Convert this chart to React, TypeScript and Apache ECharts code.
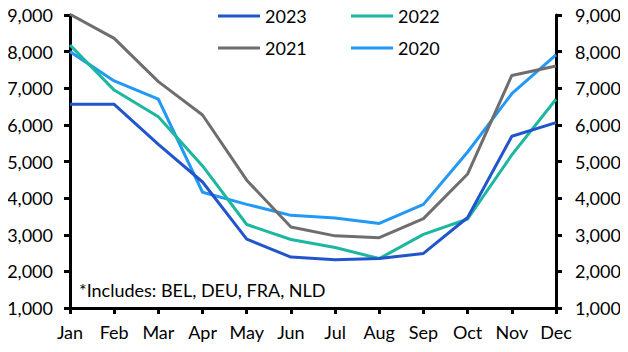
import React, { useEffect, useRef } from "react";
import * as echarts from "echarts";

const months = ["Jan", "Feb", "Mar", "Apr", "May", "Jun", "Jul", "Aug", "Sep", "Oct", "Nov", "Dec"];
const s2023 = [6560, 6560, 5470, 4440, 2880, 2390, 2320, 2350, 2490, 3470, 5690, 6060];
const s2022 = [8180, 6950, 6220, 4880, 3280, 2870, 2650, 2350, 3010, 3430, 5180, 6700];
const s2021 = [9020, 8360, 7180, 6270, 4490, 3210, 2970, 2920, 3440, 4660, 7350, 7610];
const s2020 = [8000, 7200, 6700, 4160, 3830, 3530, 3460, 3310, 3830, 5260, 6850, 7910];
const seriesNames = ["2023", "2022", "2021", "2020"];
const colors = ["#2155CC", "#1DB7A0", "#6E6E6E", "#2399F5"];
const noteText = "*Includes: BEL, DEU, FRA, NLD";

const FONT = "Lato";

export default function App() {
  const ref = useRef<HTMLDivElement>(null);
  useEffect(() => {
    if (!ref.current) return;
    const chart = echarts.init(ref.current, undefined, { renderer: "svg" });
    const data = [s2023, s2022, s2021, s2020];
    const axisLabel = { color: "#000", fontSize: 18, fontFamily: FONT };
    const yAxisBase = {
      type: "value" as const,
      min: 1000,
      max: 9000,
      interval: 1000,
      splitLine: { show: false },
      axisLine: { show: true, lineStyle: { color: "#000", width: 3 } },
      axisTick: { show: true, length: 6, lineStyle: { color: "#000", width: 3 } },
    };
    const legendPos = [
      { left: 218, top: 7 },
      { left: 351, top: 7 },
      { left: 218, top: 39 },
      { left: 351, top: 39 },
    ];
    chart.setOption({
      animation: false,
      grid: { left: 70, right: 72, top: 15, bottom: 44 },
      legend: seriesNames.map((n, i) => ({
        data: [n],
        left: legendPos[i].left,
        top: legendPos[i].top,
        icon: "rect",
        itemWidth: 42,
        itemHeight: 3,
        itemGap: 0,
        padding: 0,
        textStyle: { color: "#000", fontSize: 18, fontFamily: FONT },
      })),
      xAxis: {
        type: "category",
        data: months,
        boundaryGap: false,
        axisLine: { show: true, lineStyle: { color: "#000", width: 3 } },
        axisTick: { show: true, length: 6, lineStyle: { color: "#000", width: 3 } },
        axisLabel: { ...axisLabel, margin: 15, interval: 0 },
      },
      yAxis: [
        {
          ...yAxisBase,
          position: "left",
          axisLabel: {
            ...axisLabel,
            margin: 17,
            formatter: (v: number) => v.toLocaleString("en-US"),
          },
        },
        {
          ...yAxisBase,
          position: "right",
          axisLabel: {
            ...axisLabel,
            margin: 19,
            formatter: (v: number) => v.toLocaleString("en-US"),
          },
        },
      ],
      graphic: [
        {
          type: "text",
          left: 79,
          top: 281,
          style: { text: noteText, fill: "#000", fontSize: 18, fontFamily: FONT },
        },
      ],
      series: seriesNames.map((n, i) => ({
        name: n,
        type: "line",
        data: data[i],
        yAxisIndex: 0,
        symbol: "none",
        itemStyle: { color: colors[i] },
        lineStyle: { color: colors[i], width: 3 },
        z: 10 - i,
      })),
    });
    return () => chart.dispose();
  }, []);
  return <div ref={ref} style={{ width: 628, height: 352, margin: -8 }} />;
}
